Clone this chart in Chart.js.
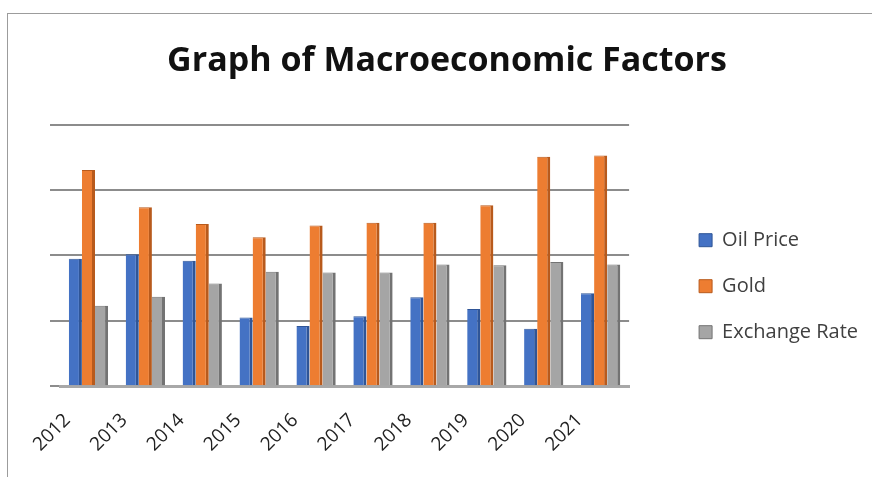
<!DOCTYPE html>
<html>
<head>
<meta charset="utf-8">
<script src="https://cdn.jsdelivr.net/npm/chart.js@4.4.1/dist/chart.umd.min.js"></script>
<style>
    html, body { margin: 0; padding: 0; background: #fff; overflow: hidden; }
    #box { position: absolute; left: 7px; top: 13px; width: 900px; height: 500px;
           border-left: 1px solid #9c9c9c; border-top: 1px solid #9c9c9c; }
    #wrap { position: absolute; left: 0; top: 0; width: 864px; height: 463px; }
</style>
</head>
<body>
<div id="box"><div id="wrap"><canvas id="chart_macro"></canvas></div></div>
<script>
// values (the axis has no labels, one unit = one gridline)
const years = ['2012', '2013', '2014', '2015', '2016', '2017', '2018', '2019', '2020', '2021'];
const oilPrice = [1.95, 2.02, 1.92, 1.05, 0.92, 1.07, 1.36, 1.18, 0.88, 1.42];
const gold = [3.31, 2.74, 2.48, 2.28, 2.46, 2.50, 2.50, 2.77, 3.51, 3.53];
const exchangeRate = [1.23, 1.37, 1.57, 1.75, 1.74, 1.74, 1.86, 1.85, 1.90, 1.86];
const yMin = 0;
const yMax = 4;
const yStep = 1;

const fontName = "'Open Sans', 'Noto Sans', sans-serif";

function makeSet(label, data, face, side){
    return {
        label: label,
        data: data,
        backgroundColor: face,
        borderColor: side,
        borderWidth: {top: 1, right: 3, bottom: 0, left: 0},
        borderSkipped: 'bottom'
    };
}

const ctx = document.getElementById('chart_macro');
new Chart(ctx, {
    type: 'bar',
    data: {
        labels: years,
        datasets: [
            makeSet('Oil Price', oilPrice, '#4472c4', '#2f5597'),
            makeSet('Gold', gold, '#ed7d31', '#b85a1c'),
            makeSet('Exchange Rate', exchangeRate, '#a5a5a5', '#737373')
        ]
    },
    options: {
        responsive: true,
        maintainAspectRatio: false,
        animation: false,
        datasets: {
            bar: { categoryPercentage: 0.69, barPercentage: 1 }
        },
        layout: {
            padding: {left: 18, right: 4, top: 0, bottom: 6}
        },
        plugins: {
            title: {
                display: true,
                text: 'Graph of Macroeconomic Factors',
                color: '#111',
                font: {family: fontName, size: 34, weight: 'bold'},
                padding: {top: 27, bottom: 43}
            },
            legend: {
                position: 'right',
                // empty title only pushes the entries down
                title: { display: true, text: '', padding: {top: 73, bottom: 0} },
                labels: {
                    color: '#404040',
                    font: {family: fontName, size: 20},
                    boxWidth: 13,
                    boxHeight: 13,
                    padding: 26
                }
            },
            tooltip: { enabled: false }
        },
        scales: {
            x: {
                grid: { display: false },
                border: { display: true, color: '#a8a8a8', width: 3 },
                ticks: {
                    color: '#222',
                    font: {family: fontName, size: 19},
                    minRotation: 45,
                    maxRotation: 45,
                    labelOffset: -21,
                    padding: 15
                }
            },
            y: {
                min: yMin,
                max: yMax,
                ticks: { display: false, stepSize: yStep },
                grid: { color: '#8c8c8c', lineWidth: 2, drawTicks: true, tickLength: 10 },
                border: { display: false },
                afterFit: function(scale){ scale.width = 34; }
            },
            // hidden spacer between the plot and the legend
            gap: {
                type: 'linear',
                position: 'right',
                display: false,
                afterFit: function(scale){ scale.width = 44; }
            }
        }
    }
});
</script>
</body>
</html>
